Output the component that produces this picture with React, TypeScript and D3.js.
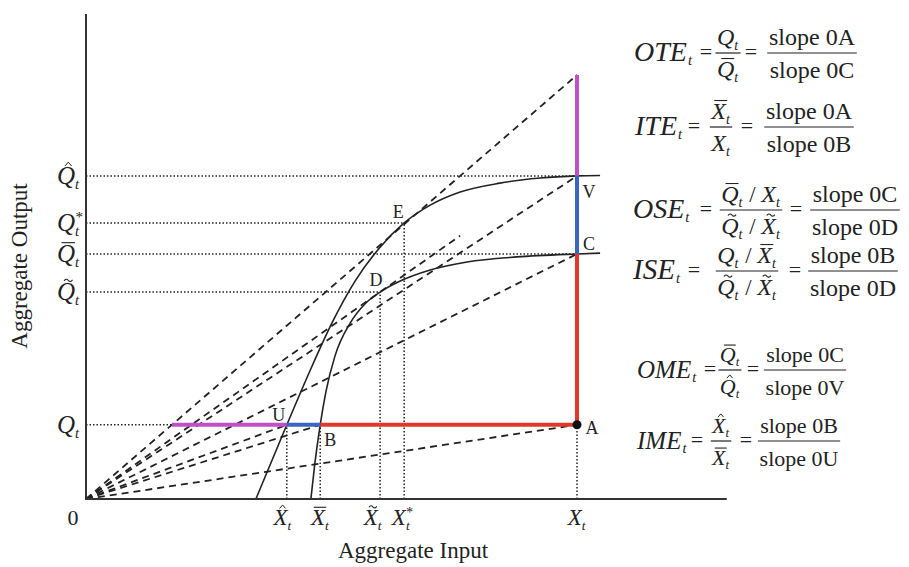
import React from 'react';
import * as d3 from 'd3';

type Pt = [number, number];

const W = 909;
const H = 567;
const SERIF = '"Liberation Serif", "Times New Roman", Times, serif';

// input levels on the x axis: X̂t, X̄t, X̃t, X*t, Xt  (Xt = 10)
const inputAccents = ['hat', 'bar', 'tilde', 'star', ''];
const inputLevels = [4.09, 4.77, 5.99, 6.48, 10];
// output levels on the y axis: Q̂t, Q*t, Q̄t, Q̃t, Qt
const outputAccents = ['hat', 'star', 'bar', 'tilde', ''];
const outputLevels = [7.62, 6.51, 5.78, 4.88, 1.75];

// the two frontiers
const outerFrontier: Pt[] = [
  [3.46, 0], [4.09, 1.75], [4.56, 3.02], [5.03, 4.2], [5.48, 5.14], [5.99, 5.94], [6.48, 6.51],
  [7.01, 6.93], [7.62, 7.24], [8.43, 7.45], [9.25, 7.57], [10, 7.62], [10.47, 7.63],
];
const innerFrontier: Pt[] = [
  [4.58, 0], [4.66, 0.83], [4.77, 1.75], [4.89, 2.55], [5.07, 3.37], [5.38, 4.15], [5.68, 4.6],
  [5.99, 4.88], [6.4, 5.14], [7.01, 5.4], [7.76, 5.59], [8.78, 5.71], [10, 5.78], [10.47, 5.8],
];

// labelled points
const pointNames = ['U', 'B', 'A', 'C', 'V', 'D', 'E'];
const pointXs = [4.09, 4.77, 10, 10, 10, 5.99, 6.48];
const pointYs = [1.75, 1.75, 1.75, 5.78, 7.62, 4.88, 6.51];

// ends of the dashed rays from the origin
const rayXs = [10, 7.62, 10, 10, 4.09, 4.77, 10];
const rayYs = [10, 6.21, 7.62, 5.78, 1.75, 1.75, 1.75];

// coloured path: magenta, blue, red, red, blue, magenta
const stepXs = [1.75, 4.09, 4.77, 10, 10, 10, 10];
const stepYs = [1.75, 1.75, 1.75, 1.75, 5.78, 7.62, 10];

// where the dotted guides stop
const hGuideEnds = [10, 6.48, 10, 5.99, 1.75];
const vGuideEnds = [1.75, 1.75, 4.88, 6.51, 1.75];

const xAxisEnd = 13.05;
const yAxisEnd = 11.44;

const MAGENTA = '#c150c2';
const BLUE = '#3a66c2';
const RED = '#e2382b';
const stepColors = [MAGENTA, BLUE, RED, RED, BLUE, MAGENTA];

const labelOffsets: Pt[] = [[-8, -4], [10, 21], [15, 9], [12, -4], [12, 22], [-4, -6], [-6, -5]];
const xLabelShift = [-4, 0, -7, -3, 0];

type Atom = { s: string; acc?: string; op?: boolean };
const IW: Record<string, number> = { Q: 0.722, X: 0.611, '/': 0.75 };
const LW: Record<string, number> = { O: 0.722, T: 0.556, E: 0.611, I: 0.333, S: 0.5, M: 0.833 };

const atomW = (a: Atom, fs: number) => (a.op ? IW['/'] * fs : IW[a.s] * fs + 0.2 * fs);
const mathW = (atoms: Atom[], fs: number) => atoms.reduce((s, a) => s + atomW(a, fs), 0);

function Accent({ kind, cx, top, fs }: { kind?: string; cx: number; top: number; fs: number }) {
  if (!kind || kind === 'star') return null;
  if (kind === 'bar')
    return <path d={`M${cx - 0.27 * fs},${top - 0.1 * fs}H${cx + 0.27 * fs}`} stroke="#222" strokeWidth={1.1} />;
  if (kind === 'hat')
    return (
      <path
        d={`M${cx - 0.13 * fs},${top - 0.05 * fs}L${cx},${top - 0.2 * fs}L${cx + 0.13 * fs},${top - 0.05 * fs}`}
        stroke="#222" strokeWidth={1} fill="none"
      />
    );
  const yy = top - 0.12 * fs;
  return (
    <path
      d={`M${cx - 0.17 * fs},${yy + 0.02 * fs}Q${cx - 0.085 * fs},${yy - 0.1 * fs} ${cx},${yy}T${cx + 0.17 * fs},${yy - 0.02 * fs}`}
      stroke="#222" strokeWidth={1.1} fill="none"
    />
  );
}

function MathRun({ atoms, x, y, fs, anchor = 'middle' }: { atoms: Atom[]; x: number; y: number; fs: number; anchor?: string }) {
  const total = mathW(atoms, fs);
  let cur = anchor === 'middle' ? x - total / 2 : x;
  return (
    <g fontFamily={SERIF} fill="#222">
      {atoms.map((a, i) => {
        const x0 = cur;
        const w = atomW(a, fs);
        cur += w;
        if (a.op) {
          return (
            <text key={i} x={x0 + w / 2} y={y} fontSize={fs * 0.95} textAnchor="middle">/</text>
          );
        }
        const bw = IW[a.s] * fs;
        return (
          <g key={i}>
            <text x={x0} y={y} fontSize={fs} fontStyle="italic">{a.s}</text>
            <text x={x0 + bw} y={y + 0.2 * fs} fontSize={fs * 0.58} fontStyle="italic">t</text>
            {a.acc === 'star' && (
              <text x={x0 + bw + 0.02 * fs} y={y - 0.36 * fs} fontSize={fs * 0.6}>*</text>
            )}
            <Accent kind={a.acc} cx={x0 + bw / 2 + 0.09 * fs} top={y - 0.67 * fs} fs={fs} />
          </g>
        );
      })}
    </g>
  );
}

const sym = (s: string, acc = ''): Atom => ({ s, acc });
const slash: Atom = { s: '/', op: true };

type Row = {
  lhs: string; lfs: number; barY: number; lx: number; eq1: number; fx: number; eq2: number; sx: number;
  num: Atom[]; den: Atom[]; sn: string; sd: string; fs: number;
};

const rows: Row[] = [
  { lhs: 'OTE', lfs: 28, barY: 53, lx: 634, eq1: 706, fx: 728, eq2: 751, sx: 812, num: [sym('Q')], den: [sym('Q', 'bar')], sn: 'slope 0A', sd: 'slope 0C', fs: 24 },
  { lhs: 'ITE', lfs: 28, barY: 127, lx: 635, eq1: 694, fx: 721, eq2: 747, sx: 809, num: [sym('X', 'bar')], den: [sym('X')], sn: 'slope 0A', sd: 'slope 0B', fs: 24 },
  { lhs: 'OSE', lfs: 28, barY: 210, lx: 633, eq1: 706, fx: 751, eq2: 796, sx: 855, num: [sym('Q', 'bar'), slash, sym('X')], den: [sym('Q', 'tilde'), slash, sym('X', 'tilde')], sn: 'slope 0C', sd: 'slope 0D', fs: 24 },
  { lhs: 'ISE', lfs: 29, barY: 271, lx: 633, eq1: 694, fx: 747, eq2: 795, sx: 853, num: [sym('Q'), slash, sym('X', 'bar')], den: [sym('Q', 'tilde'), slash, sym('X', 'tilde')], sn: 'slope 0B', sd: 'slope 0D', fs: 24 },
  { lhs: 'OME', lfs: 25, barY: 370, lx: 637, eq1: 710, fx: 730, eq2: 753, sx: 805, num: [sym('Q', 'bar')], den: [sym('Q', 'hat')], sn: 'slope 0C', sd: 'slope 0V', fs: 22 },
  { lhs: 'IME', lfs: 25, barY: 441, lx: 637, eq1: 697, fx: 721, eq2: 746, sx: 799, num: [sym('X', 'hat')], den: [sym('X', 'bar')], sn: 'slope 0B', sd: 'slope 0U', fs: 22 },
];

function Formula({ r }: { r: Row }) {
  const fw = Math.max(mathW(r.num, r.fs), mathW(r.den, r.fs)) + 0.12 * r.fs;
  const sw = 3.65 * r.fs + 2;
  const lw = r.lhs.split('').reduce((s, c) => s + LW[c] * r.lfs, 0);
  return (
    <g fontFamily={SERIF} fill="#222">
      <text x={r.lx} y={r.barY + 8} fontSize={r.lfs} fontStyle="italic">{r.lhs}</text>
      <text x={r.lx + lw + 1} y={r.barY + 12} fontSize={14.5} fontStyle="italic">t</text>
      <text x={r.eq1} y={r.barY + 6} fontSize={22} textAnchor="middle">=</text>
      <MathRun atoms={r.num} x={r.fx} y={r.barY - 8} fs={r.fs} />
      <line x1={r.fx - fw / 2} x2={r.fx + fw / 2} y1={r.barY} y2={r.barY} stroke="#222" strokeWidth={1.2} />
      <MathRun atoms={r.den} x={r.fx} y={r.barY + 24} fs={r.fs} />
      <text x={r.eq2} y={r.barY + 6} fontSize={22} textAnchor="middle">=</text>
      <text x={r.sx} y={r.barY - 8} fontSize={r.fs} textAnchor="middle">{r.sn}</text>
      <line x1={r.sx - sw / 2} x2={r.sx + sw / 2} y1={r.barY} y2={r.barY} stroke="#222" strokeWidth={1.2} />
      <text x={r.sx} y={r.barY + 25} fontSize={r.fs} textAnchor="middle">{r.sd}</text>
    </g>
  );
}

export default function App() {
  const x = d3.scaleLinear().domain([0, 10]).range([86, 577]);
  const y = d3.scaleLinear().domain([0, 10]).range([499, 75]);
  const curve = d3.line<Pt>().x(d => x(d[0])).y(d => y(d[1])).curve(d3.curveMonotoneX);

  return (
    <svg width={W} height={H} style={{ position: 'absolute', left: 0, top: 0, background: '#fff' }}>
      {/* dotted guides */}
      <g stroke="#222" strokeWidth={1.5} strokeDasharray="1.5 2">
        {outputLevels.map((q, i) => (
          <line key={'h' + i} x1={x(0)} x2={x(hGuideEnds[i])} y1={y(q)} y2={y(q)} />
        ))}
        {inputLevels.map((v, i) => (
          <line key={'v' + i} x1={x(v)} x2={x(v)} y1={y(0)} y2={y(vGuideEnds[i])} />
        ))}
      </g>

      {/* dashed rays from the origin */}
      <g stroke="#222" strokeWidth={1.8} strokeDasharray="7 5">
        {rayXs.map((rx, i) => (
          <line key={i} x1={x(0)} y1={y(0)} x2={x(rx)} y2={y(rayYs[i])} />
        ))}
      </g>

      {/* frontiers */}
      <path d={curve(outerFrontier) ?? ''} fill="none" stroke="#222" strokeWidth={1.6} />
      <path d={curve(innerFrontier) ?? ''} fill="none" stroke="#222" strokeWidth={1.6} />

      {/* coloured segments */}
      {stepColors.map((c, i) => (
        <line key={i} x1={x(stepXs[i])} y1={y(stepYs[i])} x2={x(stepXs[i + 1])} y2={y(stepYs[i + 1])}
          stroke={c} strokeWidth={4} />
      ))}

      {/* axes */}
      <path d={`M${x(0)},${y(yAxisEnd)}V${y(0)}H${x(xAxisEnd)}`} fill="none" stroke="#333" strokeWidth={2} />
      <circle cx={x(10)} cy={y(1.75)} r={4.5} fill="#111" />

      {/* point labels */}
      <g fontFamily={SERIF} fontSize={18} fill="#222" textAnchor="middle">
        {pointNames.map((n, i) => (
          <text key={n} x={x(pointXs[i]) + labelOffsets[i][0]} y={y(pointYs[i]) + labelOffsets[i][1]}>{n}</text>
        ))}
      </g>

      {/* axis labels */}
      {outputLevels.map((q, i) => (
        <MathRun key={'q' + i} atoms={[sym('Q', outputAccents[i])]} x={57} y={y(q) + 8} fs={25} anchor="start" />
      ))}
      {inputLevels.map((v, i) => (
        <MathRun key={'x' + i} atoms={[sym('X', inputAccents[i])]} x={x(v) + xLabelShift[i]} y={525} fs={23} />
      ))}
      <text x={73} y={525} fontFamily={SERIF} fontSize={22} textAnchor="middle" fill="#222">0</text>
      <text x={413} y={558} fontFamily={SERIF} fontSize={23} textAnchor="middle" fill="#222">Aggregate Input</text>
      <text x={27} y={266} transform="rotate(-90,27,266)" fontFamily={SERIF} fontSize={23} textAnchor="middle" fill="#222">
        Aggregate Output
      </text>

      {rows.map(r => <Formula key={r.lhs} r={r} />)}
    </svg>
  );
}
